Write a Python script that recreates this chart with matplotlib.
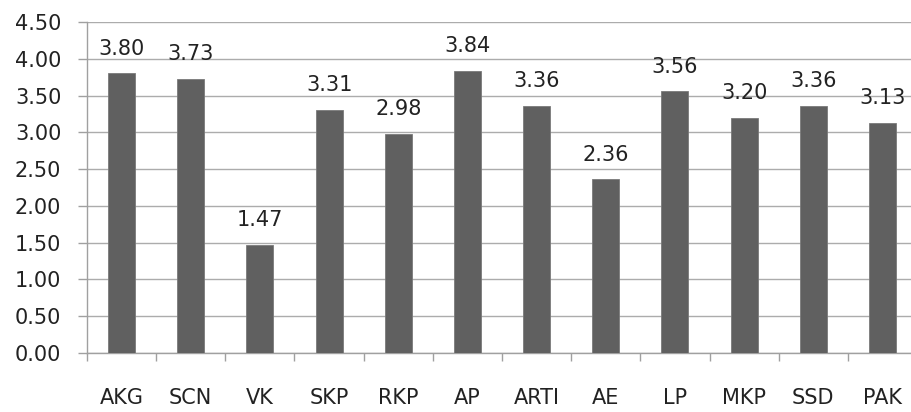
import matplotlib
matplotlib.use("Agg")
import matplotlib.pyplot as plt
import numpy as np

categories = ["AKG", "SCN", "VK", "SKP", "RKP", "AP", "ARTI", "AE", "LP", "MKP", "SSD", "PAK"]
values = [3.80, 3.73, 1.47, 3.31, 2.98, 3.84, 3.36, 2.36, 3.56, 3.20, 3.36, 3.13]
yticks = [0.0, 0.5, 1.0, 1.5, 2.0, 2.5, 3.0, 3.5, 4.0, 4.5]

plt.rcParams['font.family'] = ['DejaVu Sans']
fig = plt.figure(figsize=(9.11, 4.12), dpi=100)
ax = fig.add_axes([87/911, 1-353/412, 830/911, 331/412])

x = np.arange(len(categories))
ax.bar(x, values, width=0.39, color="#606060", edgecolor="#7a7a7a", linewidth=0.6, zorder=3)
for xi, v in zip(x, values):
    ax.annotate(f"{v:.2f}", (xi, v), xytext=(0, 10.5), textcoords="offset points",
                ha="center", va="bottom", fontsize=15, color="#222222", zorder=4)

ax.set_xlim(-0.5, len(categories)-0.5)
ax.set_ylim(0, 4.5)
ax.set_yticks(yticks)
ax.set_yticklabels([f"{t:.2f}" for t in yticks])
ax.yaxis.grid(True, color="#acacac", linewidth=1.0, zorder=0)
ax.set_axisbelow(True)

ax.set_xticks(x)
ax.set_xticklabels(categories)
ax.set_xticks(np.arange(len(categories)+1)-0.5, minor=True)
ax.tick_params(axis="x", which="major", length=0, pad=25.5, labelsize=15, labelcolor="#222222")
ax.tick_params(axis="x", which="minor", length=6, width=1.0, color="#a0a0a0")
ax.tick_params(axis="y", length=6.5, width=1.0, color="#a0a0a0", pad=12, labelsize=15, labelcolor="#222222")

for s in ["top", "right"]:
    ax.spines[s].set_visible(False)
for s in ["left", "bottom"]:
    ax.spines[s].set_color("#a0a0a0")
    ax.spines[s].set_linewidth(1.0)

fig.savefig("out.png", dpi=100)
